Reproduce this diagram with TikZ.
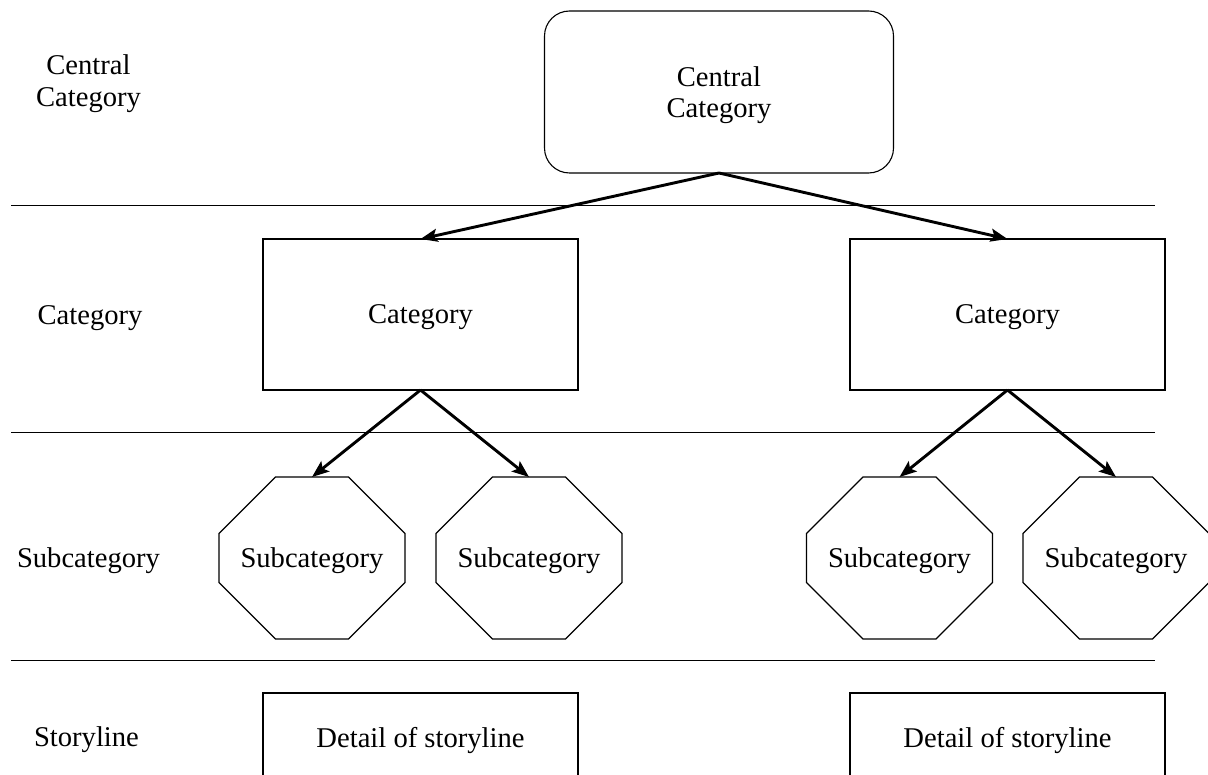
\documentclass[tikz,border=0pt]{standalone}
\usepackage{fontspec}
\setmainfont{Liberation Serif}
\usetikzlibrary{shapes.misc,arrows.meta}
\begin{document}
\begin{tikzpicture}[x=1pt,y=-1pt,
  every node/.style={font=\fontsize{28.6}{31}\selectfont, outer sep=0pt, inner sep=0pt},
  oneline/.style={text height=19pt, text depth=0pt},
  centralbox/.style={draw, line width=1.1pt, rounded corners=25pt,
    minimum width=349pt, minimum height=162pt},
  catbox/.style={draw, oneline, line width=1.1pt, minimum width=315pt, minimum height=151pt},
  subbox/.style={draw, oneline, line width=1.1pt, chamfered rectangle,
    chamfered rectangle xsep=48pt, chamfered rectangle ysep=47pt,
    minimum width=186pt, minimum height=162pt},
  storybox/.style={draw, oneline, line width=1.1pt, minimum width=315pt, minimum height=89pt},
  linetext/.style={anchor=base},
  divider/.style={line width=1pt},
  link/.style={line width=2.9pt, -{Stealth[length=17pt,width=13pt,inset=3.5pt]}}
]
\useasboundingbox (0,0) rectangle (1208,775);
\clip (0,0) rectangle (1208,775);

% row labels (baselines set per line)
\node[linetext] (lc1) at (88.5,75) {Central};
\node[linetext] (lc2) at (88.5,107) {Category};
\node[linetext] (lcat) at (90,324.5) {Category};
\node[linetext] (lsub) at (88.5,567) {Subcategory};
\node[linetext] (lst) at (86.5,746.5) {Storyline};

% row dividers
\coordinate (d1a) at (11,206); \coordinate (d1b) at (1155,206);
\coordinate (d2a) at (11,433); \coordinate (d2b) at (1155,433);
\coordinate (d3a) at (11,660); \coordinate (d3b) at (1155,660);
\draw[divider] (d1a) -- (d1b);
\draw[divider] (d2a) -- (d2b);
\draw[divider] (d3a) -- (d3b);

% hierarchy
\node[centralbox] (root) at (719,92) {};
\node[linetext] (root1) at (719,87) {Central};
\node[linetext] (root2) at (719,118) {Category};
\node[catbox] (catL) at (420.5,314.5) {Category};
\node[catbox] (catR) at (1007.5,314.5) {Category};
\node[subbox] (subL1) at (312,558) {Subcategory};
\node[subbox] (subL2) at (529,558) {Subcategory};
\node[subbox] (subR1) at (899.5,558) {Subcategory};
\node[subbox] (subR2) at (1116,558) {Subcategory};
\node[storybox] (stL) at (420.5,737.5) {Detail of storyline};
\node[storybox] (stR) at (1007.5,737.5) {Detail of storyline};

\draw[link] (root.south) -- (catL.north);
\draw[link] (root.south) -- (catR.north);
\draw[link] (catL.south) -- (subL1.north);
\draw[link] (catL.south) -- (subL2.north);
\draw[link] (catR.south) -- (subR1.north);
\draw[link] (catR.south) -- (subR2.north);
\end{tikzpicture}
\end{document}
